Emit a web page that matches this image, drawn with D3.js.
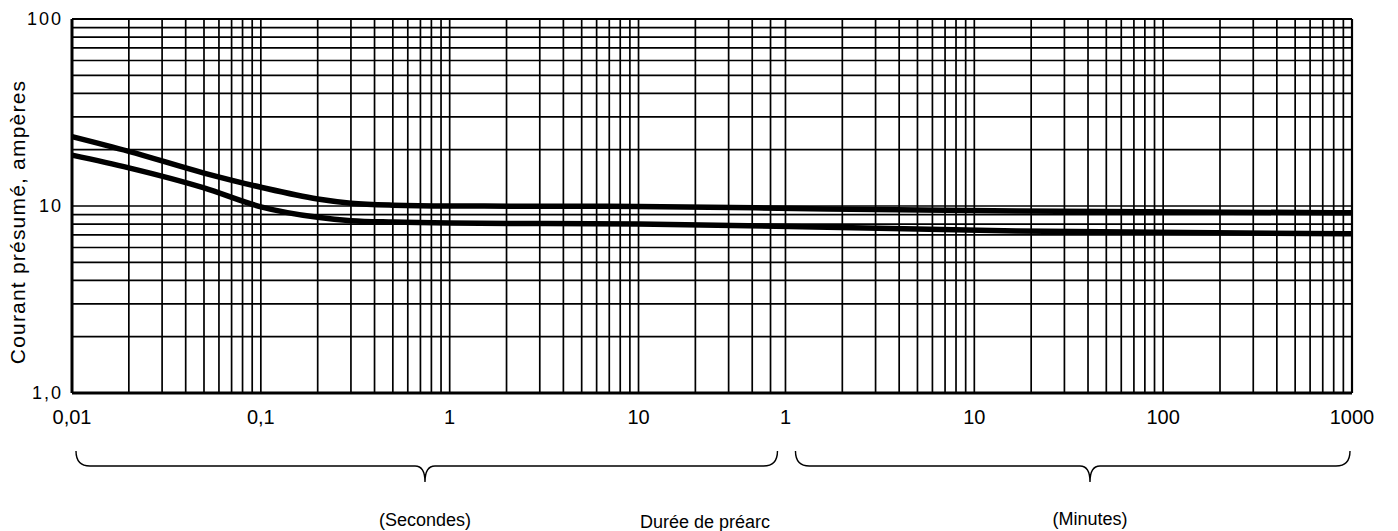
<!DOCTYPE html>
<html>
<head>
<meta charset="utf-8">
<style>
  body { margin: 0; background: #fff; }
  text { font-family: "Liberation Sans", Arial, sans-serif; fill: #000; }
</style>
</head>
<body>
<svg id="chart" width="1398" height="531"></svg>
<script src="https://cdnjs.cloudflare.com/ajax/libs/d3/7.8.5/d3.min.js"></script>
<script>
  // pre-arcing time (seconds) and prospective current (A)
  var timeSec   = [0.01, 0.02, 0.05, 0.1, 0.2, 0.3, 0.5, 1, 10, 100, 1000, 60000]
  var upperAmps = [23.5, 19.6, 15.0, 12.6, 10.9, 10.35, 10.1, 10.0, 9.95, 9.65, 9.4, 9.2]
  var lowerAmps = [18.7, 16.0, 12.5, 9.9, 8.7, 8.35, 8.2, 8.1, 8.0, 7.7, 7.35, 7.1]

  // axis labels
  var secTicks = [0.01, 0.1, 1, 10]
  var secLabels = ["0,01", "0,1", "1", "10"]
  var minTicks = [1, 10, 100, 1000]
  var minLabels = ["1", "10", "100", "1000"]
  var yTicks = [1, 10, 100]
  var yLabels = ["1,0", "10", "100"]

  var svg = d3.select("#chart")
  var margin = {top: 19, right: 46, bottom: 138, left: 72}
  var width = 1398 - margin.left - margin.right
  var height = 531 - margin.top - margin.bottom
  var g = svg.append("g").attr("transform", "translate(" + margin.left + "," + margin.top + ")")

  var x = d3.scaleLog().domain([0.01, 60000]).range([0, width])
  var y = d3.scaleLog().domain([1, 100]).range([height, 0])

  // grid: seconds up to 1 min, then minutes
  var vGrid = []
  ;[0.01, 0.1, 1, 10].forEach(function(d) {
    for (var k = 1; k <= 9; k++) { if (d * k < 60) vGrid.push(d * k) }
  })
  ;[1, 10, 100].forEach(function(d) {
    for (var k = 1; k <= 9; k++) vGrid.push(d * k * 60)
  })
  var hGrid = []
  ;[1, 10].forEach(function(d) {
    for (var k = 2; k <= 10; k++) hGrid.push(d * k)
  })

  g.append("g").selectAll("line").data(vGrid).enter().append("line")
    .attr("x1", function(d) { return x(d) }).attr("x2", function(d) { return x(d) })
    .attr("y1", 0).attr("y2", height)
    .attr("stroke", "#000").attr("stroke-width", 1.7)
  g.append("g").selectAll("line").data(hGrid).enter().append("line")
    .attr("x1", 0).attr("x2", width)
    .attr("y1", function(d) { return y(d) }).attr("y2", function(d) { return y(d) })
    .attr("stroke", "#000").attr("stroke-width", 1.7)

  // frame
  g.append("line").attr("x1", 0).attr("x2", width).attr("y1", 0).attr("y2", 0)
    .attr("stroke", "#000").attr("stroke-width", 2.2)
  g.append("line").attr("x1", width).attr("x2", width).attr("y1", 0).attr("y2", height)
    .attr("stroke", "#000").attr("stroke-width", 2.2)
  g.append("line").attr("x1", 0).attr("x2", width).attr("y1", height).attr("y2", height)
    .attr("stroke", "#000").attr("stroke-width", 3)
  g.append("line").attr("x1", 0).attr("x2", 0).attr("y1", 0).attr("y2", height)
    .attr("stroke", "#000").attr("stroke-width", 3)

  // curves
  var line = d3.line()
    .x(function(d) { return x(d[0]) })
    .y(function(d) { return y(d[1]) })
    .curve(d3.curveMonotoneX)
  ;[upperAmps, lowerAmps].forEach(function(s) {
    g.append("path")
      .datum(timeSec.map(function(t, i) { return [t, s[i]] }))
      .attr("d", line)
      .attr("fill", "none")
      .attr("stroke", "#000")
      .attr("stroke-width", 5.5)
  })

  // y tick labels
  g.selectAll(".ylab").data(yTicks).enter().append("text")
    .attr("class", "ylab")
    .attr("x", -9).attr("y", function(d) { return y(d) })
    .attr("dy", "0.35em")
    .attr("text-anchor", "end")
    .style("font-size", "18px")
    .style("letter-spacing", "2px")
    .text(function(d, i) { return yLabels[i] })

  // x tick labels
  g.selectAll(".xsec").data(secTicks).enter().append("text")
    .attr("x", function(d) { return x(d) }).attr("y", height + 31)
    .attr("text-anchor", "middle").style("font-size", "20px")
    .text(function(d, i) { return secLabels[i] })
  g.selectAll(".xmin").data(minTicks).enter().append("text")
    .attr("x", function(d) { return x(d * 60) }).attr("y", height + 31)
    .attr("text-anchor", "middle").style("font-size", "20px")
    .text(function(d, i) { return minLabels[i] })

  // y axis title
  svg.append("text")
    .attr("transform", "translate(25,222) rotate(-90)")
    .attr("text-anchor", "middle")
    .style("font-size", "21px")
    .style("letter-spacing", "1.2px")
    .text("Courant présumé, ampères")

  // braces under the axis
  function brace(x0, x1, xm, yTop) {
    var r = 14, yb = yTop + 15, tip = 16
    return "M" + x0 + "," + yTop +
      " Q" + x0 + "," + yb + " " + (x0 + r) + "," + yb +
      " L" + (xm - 10) + "," + yb +
      " Q" + xm + "," + yb + " " + xm + "," + (yb + tip) +
      " Q" + xm + "," + yb + " " + (xm + 10) + "," + yb +
      " L" + (x1 - r) + "," + yb +
      " Q" + x1 + "," + yb + " " + x1 + "," + yTop
  }
  var bTop = height + 58
  g.append("path").attr("d", brace(x(0.01) + 4, x(60) - 8, 353, bTop))
    .attr("fill", "none").attr("stroke", "#000").attr("stroke-width", 1.4)
  g.append("path").attr("d", brace(x(60) + 10, x(60000) - 2, 1018, bTop))
    .attr("fill", "none").attr("stroke", "#000").attr("stroke-width", 1.4)

  g.append("text").attr("x", 353).attr("y", height + 133)
    .attr("text-anchor", "middle").style("font-size", "18px").text("(Secondes)")
  g.append("text").attr("x", 633).attr("y", height + 135)
    .attr("text-anchor", "middle").style("font-size", "18px").text("Durée de préarc")
  g.append("text").attr("x", 1018).attr("y", height + 132)
    .attr("text-anchor", "middle").style("font-size", "18px").text("(Minutes)")
</script>
</body>
</html>
